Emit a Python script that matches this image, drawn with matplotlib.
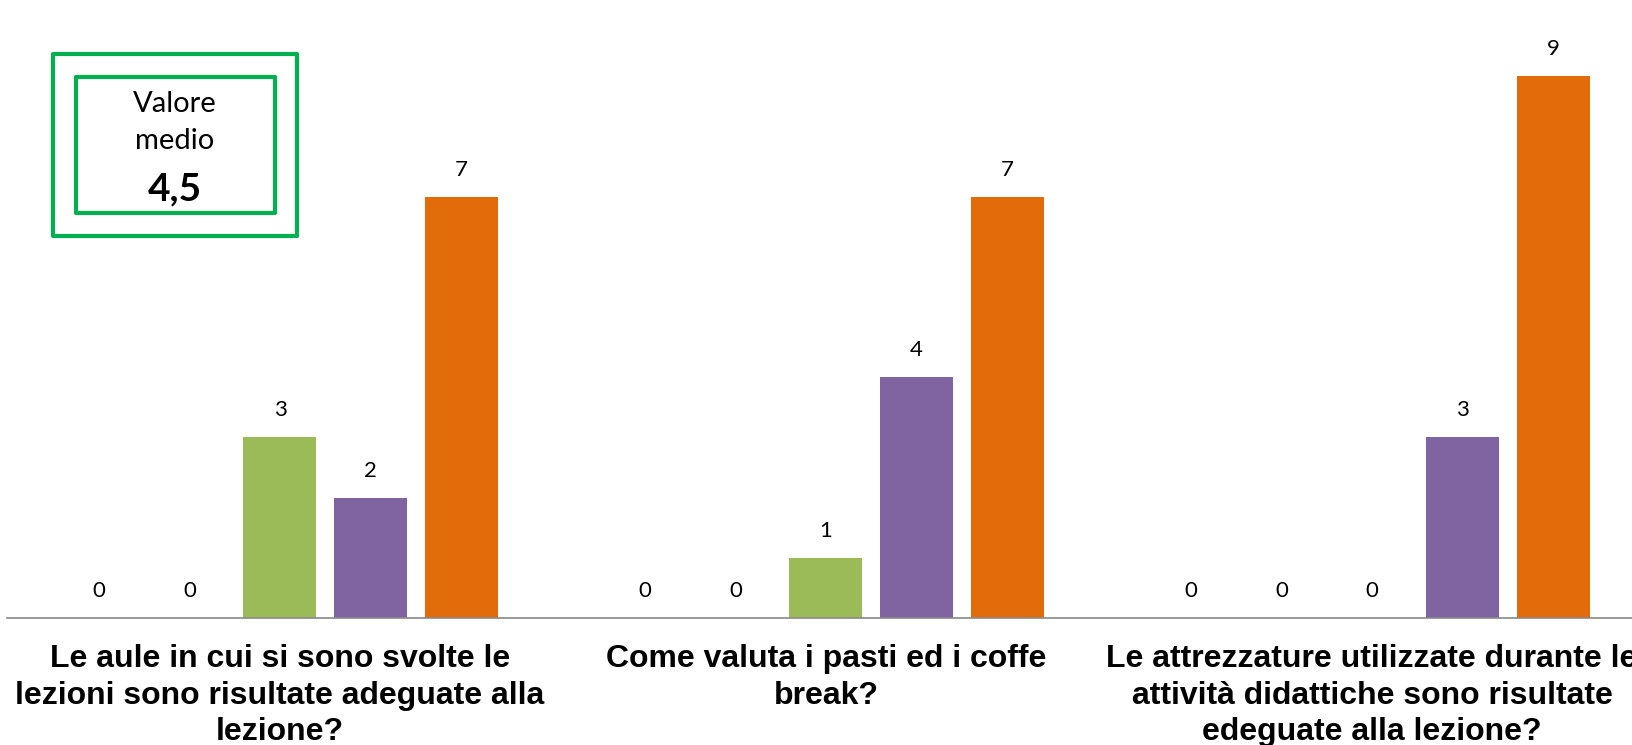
import numpy as np
import matplotlib.pyplot as plt
from matplotlib.patches import Rectangle

# data
categories = ["Le aule in cui si sono svolte le\nlezioni sono risultate adeguate alla\nlezione?",
              "Come valuta i pasti ed i coffe\nbreak?",
              "Le attrezzature utilizzate durante le\nattività didattiche sono risultate\nedeguate alla lezione?"]
serie1 = [0, 0, 0]
serie2 = [0, 0, 0]
serie3 = [3, 1, 0]
serie4 = [2, 4, 3]
serie5 = [7, 7, 9]
valore_medio = "4,5"

series = [serie1, serie2, serie3, serie4, serie5]
colors = ["#4F81BD", "#C0504D", "#9BBB59", "#8064A2", "#E36C0A"]

W, H = 1633, 745
fig = plt.figure(figsize=(W / 100, H / 100), dpi=100)

# axes: starts at x=7px, baseline at y=618px, one category = 546px
left = 7 / W
bottom = (H - 618) / H
ax = fig.add_axes([left, bottom, 1 - left, 602 / H])
cat_w = 546
ax.set_xlim(-0.5, -0.5 + (W - 7) / cat_w)
ax.set_ylim(0, 10)

x = np.arange(len(categories))
step = 90.6 / cat_w
bw = 73 / cat_w
for i, (vals, c) in enumerate(zip(series, colors)):
    pos = x + (i - 2) * step
    bars = ax.bar(pos, vals, width=bw, color=c, zorder=2)
    for xp, v in zip(pos, vals):
        ax.annotate(str(v), (xp, v), xytext=(0, 19.5), textcoords="offset points",
                    ha="center", va="center", fontsize=16, family="Lato", color="black")

for s in ["top", "left", "right"]:
    ax.spines[s].set_visible(False)
ax.spines["bottom"].set_color("#898989")
ax.spines["bottom"].set_linewidth(1.2)
ax.set_yticks([])
ax.set_xticks(x)
ax.set_xticklabels(categories, fontsize=23, fontweight="bold", family="Liberation Sans",
                   linespacing=1.27)
ax.tick_params(axis="x", length=0, pad=19)

# box "Valore medio"
def px_rect(x0, y0, x1, y1):
    return Rectangle((x0 / W, 1 - y1 / H), (x1 - x0) / W, (y1 - y0) / H,
                     transform=fig.transFigure, fill=False, edgecolor="#00B050",
                     linewidth=3, joinstyle="round")

fig.add_artist(px_rect(53, 54, 297, 236))
fig.add_artist(px_rect(76, 77, 275, 213))
fig.text(175 / W, 1 - 104 / H, "Valore", ha="center", va="center", fontsize=21, family="Lato")
fig.text(175 / W, 1 - 141 / H, "medio", ha="center", va="center", fontsize=21, family="Lato")
fig.text(175 / W, 1 - 189 / H, valore_medio, ha="center", va="center", fontsize=28,
         fontweight="bold", family="Lato")

fig.savefig("out.png", dpi=100)
